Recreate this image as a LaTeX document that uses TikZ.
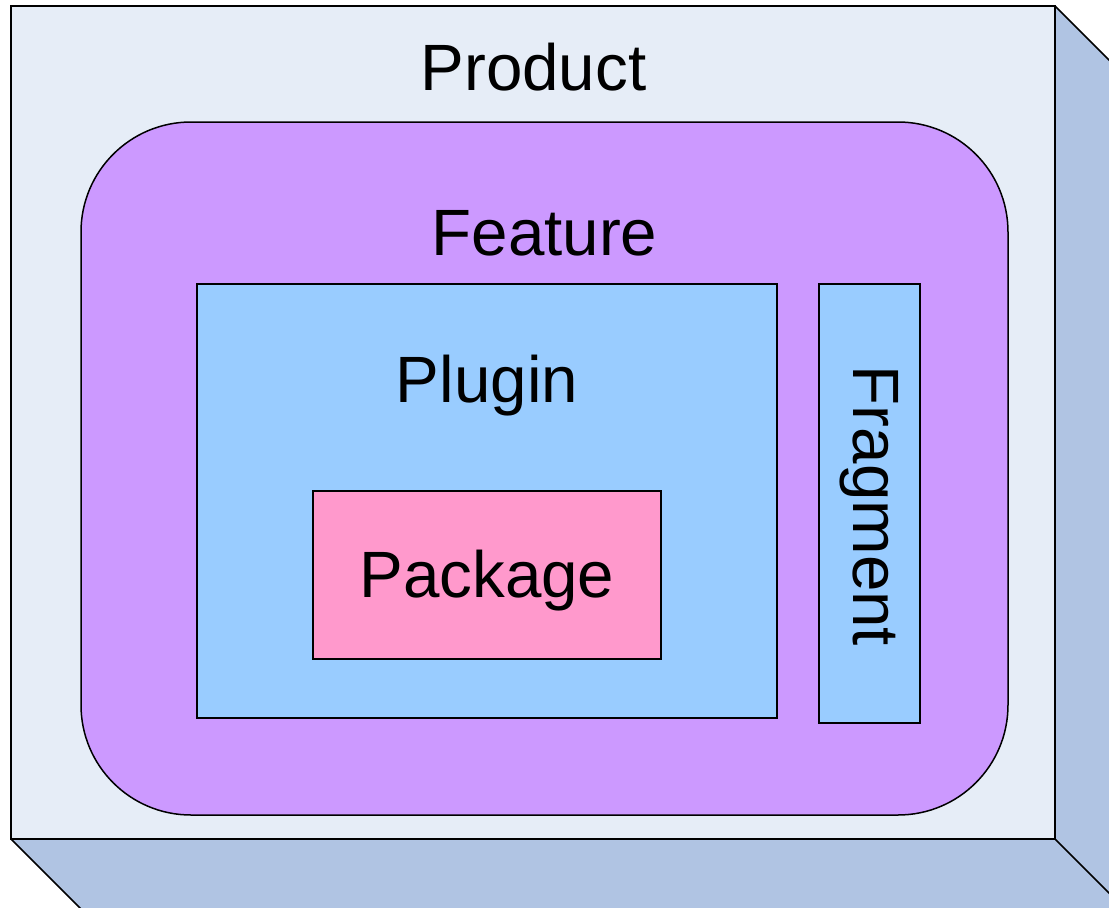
\documentclass[tikz,border=0pt]{standalone}
\usepackage{fontspec}
\setmainfont{Liberation Sans}
\definecolor{frontc}{HTML}{E6EDF7}
\definecolor{sidec}{HTML}{B0C4E3}
\definecolor{featc}{HTML}{CC99FF}
\definecolor{plugc}{HTML}{99CCFF}
\definecolor{packc}{HTML}{FF99CC}
\tikzset{
  edge/.style={draw=black, line width=1.5pt, line join=miter},
  boxshape/.style={edge, rectangle, inner sep=0pt, outer sep=0pt},
  lbl/.style={font=\fontsize{65.5}{78}\selectfont, inner sep=0pt, anchor=base}
}
\begin{document}
\begin{tikzpicture}[x=1pt,y=-1pt]
\useasboundingbox (0,0) rectangle (1109,908);
\begin{scope}
\clip (0,0) rectangle (1109,908);
\fill[sidec] (1055,6) -- (1175,126) -- (1175,959) -- (131,959) -- (11,839) -- (1055,839) -- cycle;
\draw[edge] (1055,6) -- (1175,126);
\draw[edge] (11,839) -- (131,959);
\draw[edge] (1055,839) -- (1175,959);
\end{scope}
\node[boxshape, fill=frontc, minimum width=1044pt, minimum height=833pt] (product) at (533,422.5) {};
\node[boxshape, fill=featc, rounded corners=110pt, minimum width=927pt, minimum height=693pt] (feature) at (544.5,468.5) {};
\node[boxshape, fill=plugc, minimum width=580pt, minimum height=434pt] (plugin) at (487,501) {};
\node[boxshape, fill=packc, minimum width=348pt, minimum height=168pt] (package) at (487,575) {};
\node[boxshape, fill=plugc, minimum width=101pt, minimum height=439pt] (fragment) at (869.5,503.5) {};
\node[lbl] (productlbl) at (533.5,90) {Product};
\node[lbl] (featurelbl) at (544.5,255) {Feature};
\node[lbl] (pluginlbl) at (487,402) {Plugin};
\node[lbl] (packagelbl) at (487,597) {Package};
\node[font=\fontsize{65.5}{78}\selectfont, inner sep=0pt, rotate=-90] (fragmentlbl) at (869,506) {Fragment};
\end{tikzpicture}
\end{document}
